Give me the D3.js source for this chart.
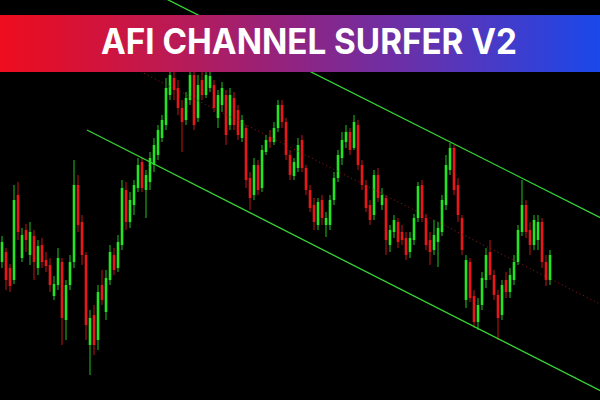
<!DOCTYPE html>
<html><head><meta charset="utf-8">
<script src="https://cdn.jsdelivr.net/npm/d3@7"></script>
<style>html,body{margin:0;padding:0;background:#000;overflow:hidden}svg{display:block}</style>
</head><body><svg id="c" width="600" height="400"></svg>
<script>
// OHLC prices, one value per bar
const opens = [1.0738,1.0748,1.0732,1.0720,1.0805,1.0742,1.0770,1.0745,1.0764,1.0732,1.0755,1.0740,1.0735,1.0704,1.0715,1.0738,1.0680,1.0715,1.0738,1.0815,1.0778,1.0745,1.0655,1.0685,1.0660,1.0715,1.0688,1.0720,1.0745,1.0732,1.0755,1.0810,1.0778,1.0795,1.0812,1.0838,1.0810,1.0818,1.0835,1.0845,1.0862,1.0875,1.0905,1.0922,1.0912,1.0892,1.0880,1.0900,1.0925,1.0882,1.0920,1.0905,1.0912,1.0915,1.0882,1.0895,1.0905,1.0875,1.0902,1.0890,1.0862,1.0872,1.0822,1.0805,1.0835,1.0812,1.0848,1.0863,1.0858,1.0872,1.0895,1.0878,1.0845,1.0824,1.0832,1.0860,1.0832,1.0810,1.0795,1.0775,1.0800,1.0775,1.0775,1.0800,1.0822,1.0842,1.0858,1.0868,1.0852,1.0875,1.0835,1.0815,1.0795,1.0785,1.0825,1.0795,1.0802,1.0755,1.0768,1.0778,1.0768,1.0762,1.0748,1.0760,1.0782,1.0815,1.0782,1.0760,1.0750,1.0758,1.0768,1.0795,1.0830,1.0852,1.0815,1.0782,1.0700,1.0738,1.0704,1.0678,1.0695,1.0720,1.0748,1.0725,1.0705,1.0685,1.0720,1.0708,1.0720,1.0738,1.0768,1.0795,1.0770,1.0755,1.0760,1.0778,1.0738,1.0720];
const closes = [1.0758,1.0720,1.0714,1.0800,1.0768,1.0765,1.0760,1.0768,1.0738,1.0754,1.0738,1.0734,1.0715,1.0716,1.0742,1.0682,1.0715,1.0738,1.0815,1.0775,1.0745,1.0675,1.0682,1.0655,1.0708,1.0700,1.0722,1.0748,1.0730,1.0758,1.0812,1.0778,1.0800,1.0815,1.0835,1.0812,1.0825,1.0842,1.0855,1.0870,1.0880,1.0912,1.0925,1.0910,1.0892,1.0878,1.0902,1.0925,1.0875,1.0915,1.0905,1.0925,1.0924,1.0892,1.0905,1.0912,1.0865,1.0905,1.0875,1.0865,1.0880,1.0820,1.0802,1.0835,1.0810,1.0850,1.0860,1.0858,1.0872,1.0895,1.0878,1.0845,1.0825,1.0838,1.0855,1.0832,1.0810,1.0792,1.0778,1.0798,1.0782,1.0782,1.0800,1.0822,1.0845,1.0860,1.0868,1.0850,1.0878,1.0835,1.0815,1.0792,1.0780,1.0825,1.0802,1.0805,1.0760,1.0770,1.0780,1.0758,1.0760,1.0745,1.0762,1.0782,1.0814,1.0782,1.0755,1.0748,1.0765,1.0772,1.0800,1.0835,1.0852,1.0810,1.0785,1.0750,1.0740,1.0702,1.0678,1.0695,1.0722,1.0745,1.0725,1.0705,1.0682,1.0715,1.0708,1.0725,1.0738,1.0770,1.0795,1.0768,1.0755,1.0780,1.0778,1.0738,1.0720,1.0745];
const highs = [1.0764,1.0752,1.0736,1.0815,1.0818,1.0772,1.0776,1.0778,1.0770,1.0760,1.0762,1.0748,1.0742,1.0724,1.0752,1.0742,1.0720,1.0745,1.0840,1.0825,1.0785,1.0748,1.0690,1.0695,1.0715,1.0730,1.0730,1.0755,1.0752,1.0765,1.0820,1.0818,1.0808,1.0820,1.0842,1.0842,1.0830,1.0848,1.0862,1.0875,1.0885,1.0922,1.0930,1.0930,1.0920,1.0900,1.0908,1.0932,1.0930,1.0925,1.0930,1.0932,1.0930,1.0920,1.0910,1.0918,1.0910,1.0912,1.0908,1.0895,1.0885,1.0875,1.0828,1.0842,1.0840,1.0855,1.0865,1.0870,1.0878,1.0900,1.0900,1.0882,1.0850,1.0842,1.0862,1.0865,1.0835,1.0815,1.0802,1.0802,1.0805,1.0788,1.0805,1.0828,1.0850,1.0868,1.0875,1.0872,1.0885,1.0880,1.0840,1.0820,1.0800,1.0830,1.0832,1.0812,1.0805,1.0775,1.0785,1.0782,1.0775,1.0768,1.0768,1.0786,1.0818,1.0820,1.0786,1.0768,1.0780,1.0778,1.0805,1.0845,1.0857,1.0855,1.0822,1.0785,1.0745,1.0742,1.0710,1.0702,1.0728,1.0752,1.0760,1.0730,1.0710,1.0720,1.0728,1.0732,1.0745,1.0775,1.0820,1.0800,1.0778,1.0785,1.0785,1.0782,1.0745,1.0750];
const lows = [1.0732,1.0710,1.0708,1.0716,1.0760,1.0738,1.0748,1.0735,1.0720,1.0725,1.0732,1.0728,1.0708,1.0700,1.0710,1.0655,1.0660,1.0710,1.0732,1.0768,1.0735,1.0660,1.0625,1.0645,1.0650,1.0695,1.0680,1.0715,1.0725,1.0728,1.0750,1.0770,1.0772,1.0785,1.0808,1.0808,1.0782,1.0810,1.0828,1.0840,1.0858,1.0870,1.0900,1.0900,1.0885,1.0848,1.0875,1.0895,1.0870,1.0878,1.0900,1.0902,1.0908,1.0888,1.0872,1.0888,1.0855,1.0870,1.0870,1.0860,1.0858,1.0812,1.0790,1.0800,1.0805,1.0808,1.0845,1.0852,1.0855,1.0868,1.0872,1.0840,1.0820,1.0820,1.0828,1.0828,1.0805,1.0788,1.0770,1.0770,1.0775,1.0763,1.0770,1.0795,1.0818,1.0835,1.0852,1.0845,1.0850,1.0830,1.0810,1.0788,1.0775,1.0780,1.0798,1.0790,1.0745,1.0748,1.0762,1.0752,1.0755,1.0740,1.0742,1.0755,1.0778,1.0778,1.0750,1.0735,1.0745,1.0733,1.0764,1.0790,1.0825,1.0805,1.0778,1.0745,1.0692,1.0698,1.0672,1.0670,1.0690,1.0712,1.0720,1.0700,1.0660,1.0680,1.0702,1.0702,1.0715,1.0735,1.0764,1.0762,1.0745,1.0750,1.0750,1.0732,1.0714,1.0715];

// Regression channel: bar-index ends and prices
const channelIdx = [21.25, 149.75];
const upperLine = [1.1041, 1.0782];
const midLine = [1.09555, 1.06955];
const lowerLine = [1.0870, 1.0609];
const title = "AFI CHANNEL SURFER V2";

const W = 600, H = 400;
const svg = d3.select("#c");
svg.append("rect").attr("width", W).attr("height", H).attr("fill", "#000");
const defs = svg.append("defs");
defs.append("filter").attr("id", "soft").attr("x", "-5%").attr("y", "-5%").attr("width", "110%").attr("height", "110%")
  .append("feGaussianBlur").attr("stdDeviation", 0.45);

const bars = opens.map((o, i) => ({i, o, c: closes[i], h: highs[i], l: lows[i]}));
const x = d3.scaleLinear().domain([0, bars.length - 1]).range([2, 550]);
const y = d3.scaleLinear().domain([1.06, 1.10]).range([H, 0]);

const up = "#22e422", dn = "#e81414";
const g = svg.append("g").attr("filter", "url(#soft)");
g.selectAll("line.w").data(bars).join("line")
  .attr("x1", d => x(d.i)).attr("x2", d => x(d.i))
  .attr("y1", d => y(d.h)).attr("y2", d => y(d.l))
  .attr("stroke", d => d.c >= d.o ? up : dn).attr("stroke-width", 1).attr("opacity", 0.85);
g.selectAll("rect.b").data(bars).join("rect")
  .attr("x", d => x(d.i) - 1.3).attr("width", 2.6)
  .attr("y", d => y(Math.max(d.o, d.c)))
  .attr("height", d => Math.max(1, Math.abs(y(d.o) - y(d.c))))
  .attr("fill", d => d.c >= d.o ? up : dn);

const line = d3.line().x(d => x(d[0])).y(d => y(d[1]));
const seg = arr => channelIdx.map((v, k) => [v, arr[k]]);
svg.append("path").attr("d", line(seg(midLine))).attr("fill", "none")
  .attr("stroke", "#a01818").attr("stroke-width", 1).attr("stroke-dasharray", "1,3");
[upperLine, lowerLine].forEach(a => svg.append("path").attr("d", line(seg(a)))
  .attr("fill", "none").attr("stroke", "#36d436").attr("stroke-width", 1.3));

// banner
const grad = defs.append("linearGradient").attr("id", "bg").attr("x1", "0%").attr("x2", "100%");
[["0%", "#ee0c1e"], ["25%", "#c2184c"], ["50%", "#8e2484"], ["75%", "#5a35b8"], ["100%", "#1a48ea"]]
  .forEach(s => grad.append("stop").attr("offset", s[0]).attr("stop-color", s[1]));
svg.append("rect").attr("x", 0).attr("y", 15).attr("width", W).attr("height", 57).attr("fill", "url(#bg)");
svg.append("text").attr("x", 309).attr("y", 54).attr("text-anchor", "middle")
  .attr("font-family", "Inter, 'Open Sans', sans-serif").attr("font-weight", 700).attr("font-size", 35)
  .attr("fill", "#fff").attr("textLength", 416).attr("lengthAdjust", "spacingAndGlyphs").text(title);
</script></body></html>
